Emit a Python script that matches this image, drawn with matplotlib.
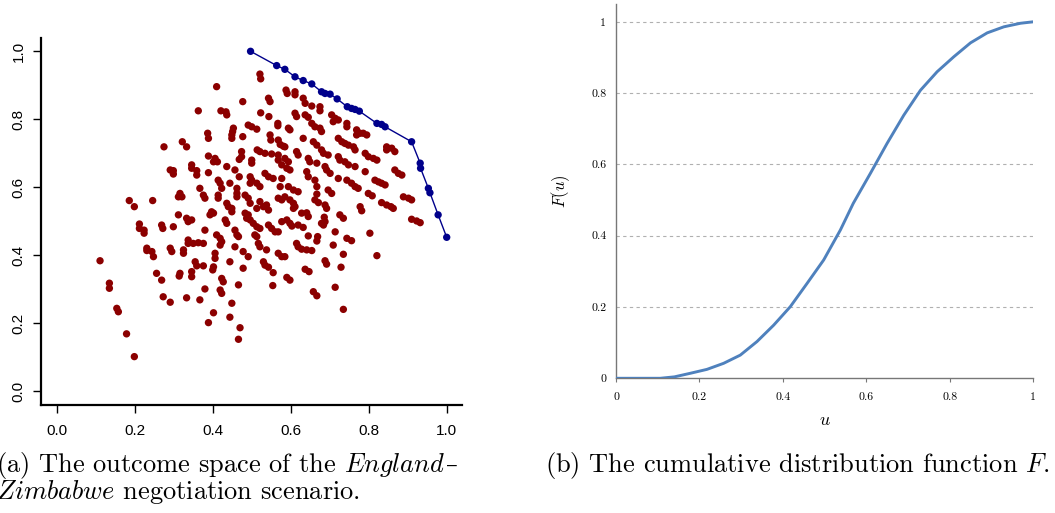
import numpy as np
import matplotlib
matplotlib.use('Agg')
import matplotlib.pyplot as plt

plt.rcParams['mathtext.fontset'] = 'cm'

# (a) outcome space: utilities (agent 1, agent 2) of the possible outcomes
outcomes = [
    (0.186, 0.561), (0.199, 0.543), (0.212, 0.492), (0.212, 0.479), (0.224, 0.474), (0.224, 0.465),
    (0.231, 0.421), (0.231, 0.414), (0.111, 0.384), (0.135, 0.318), (0.135, 0.303), (0.154, 0.244),
    (0.158, 0.234), (0.179, 0.169), (0.199, 0.102),
    (0.410, 0.896), (0.521, 0.933), (0.523, 0.919), (0.543, 0.862), (0.547, 0.852), (0.477, 0.852),
    (0.363, 0.825), (0.421, 0.825), (0.434, 0.822), (0.436, 0.813), (0.523, 0.819), (0.544, 0.808),
    (0.567, 0.788), (0.567, 0.781), (0.453, 0.774), (0.451, 0.764), (0.491, 0.783), (0.500, 0.778),
    (0.513, 0.771), (0.387, 0.759), (0.389, 0.744), (0.449, 0.754), (0.449, 0.744), (0.477, 0.749),
    (0.547, 0.754), (0.549, 0.739), (0.568, 0.739), (0.573, 0.726), (0.581, 0.721), (0.275, 0.719),
    (0.322, 0.734), (0.333, 0.719), (0.474, 0.705), (0.474, 0.690), (0.468, 0.682), (0.514, 0.710),
    (0.521, 0.705), (0.534, 0.700), (0.551, 0.698), (0.568, 0.695), (0.389, 0.692), (0.406, 0.685),
    (0.402, 0.675), (0.412, 0.675), (0.500, 0.680), (0.500, 0.671), (0.568, 0.680), (0.577, 0.666),
    (0.291, 0.651), (0.299, 0.649), (0.299, 0.639), (0.346, 0.666), (0.346, 0.656), (0.359, 0.649),
    (0.359, 0.636), (0.389, 0.643), (0.436, 0.661), (0.457, 0.651), (0.468, 0.631), (0.496, 0.631),
    (0.500, 0.621), (0.496, 0.612), (0.513, 0.612), (0.521, 0.602), (0.534, 0.641), (0.543, 0.631),
    (0.555, 0.626), (0.577, 0.626), (0.414, 0.621), (0.419, 0.612), (0.423, 0.597), (0.444, 0.612),
    (0.462, 0.597), (0.367, 0.597), (0.573, 0.602),
    (0.588, 0.886), (0.591, 0.876), (0.611, 0.881), (0.611, 0.872), (0.632, 0.862), (0.637, 0.847),
    (0.654, 0.839), (0.675, 0.837), (0.675, 0.825), (0.611, 0.818), (0.615, 0.808), (0.637, 0.813),
    (0.645, 0.806), (0.705, 0.813), (0.714, 0.803), (0.722, 0.798), (0.744, 0.788), (0.744, 0.778),
    (0.709, 0.793), (0.594, 0.774), (0.598, 0.769), (0.654, 0.788), (0.662, 0.778), (0.675, 0.774),
    (0.679, 0.764), (0.769, 0.769), (0.778, 0.759), (0.786, 0.759), (0.795, 0.754), (0.769, 0.754),
    (0.632, 0.744), (0.658, 0.734), (0.667, 0.724), (0.722, 0.744), (0.731, 0.734), (0.739, 0.729),
    (0.748, 0.724), (0.761, 0.719), (0.765, 0.710), (0.846, 0.719), (0.859, 0.715), (0.867, 0.705),
    (0.846, 0.710), (0.585, 0.719), (0.615, 0.705), (0.619, 0.695), (0.679, 0.710), (0.684, 0.700),
    (0.696, 0.695), (0.791, 0.700), (0.799, 0.690), (0.812, 0.685), (0.821, 0.680), (0.585, 0.685),
    (0.594, 0.675), (0.590, 0.656), (0.598, 0.651), (0.645, 0.685), (0.649, 0.675), (0.667, 0.671),
    (0.722, 0.690), (0.726, 0.680), (0.739, 0.675), (0.748, 0.666), (0.765, 0.661), (0.867, 0.651),
    (0.876, 0.641), (0.885, 0.636), (0.791, 0.646), (0.641, 0.646), (0.645, 0.631), (0.662, 0.621),
    (0.667, 0.602), (0.688, 0.661), (0.692, 0.651), (0.701, 0.641), (0.722, 0.626), (0.744, 0.621),
    (0.756, 0.612), (0.765, 0.602), (0.773, 0.597), (0.816, 0.621), (0.825, 0.616), (0.833, 0.612),
    (0.842, 0.607), (0.594, 0.602), (0.607, 0.592), (0.619, 0.587), (0.696, 0.592), (0.705, 0.582),
    (0.799, 0.582),
    (0.316, 0.582), (0.321, 0.572), (0.312, 0.572), (0.246, 0.561), (0.376, 0.577), (0.380, 0.568),
    (0.414, 0.577), (0.414, 0.568), (0.462, 0.582), (0.462, 0.572), (0.483, 0.577), (0.491, 0.568),
    (0.496, 0.553), (0.436, 0.553), (0.440, 0.543), (0.449, 0.538), (0.449, 0.528), (0.521, 0.558),
    (0.530, 0.543), (0.543, 0.533), (0.538, 0.548), (0.568, 0.568), (0.577, 0.563), (0.585, 0.572),
    (0.312, 0.519), (0.333, 0.509), (0.337, 0.499), (0.346, 0.504), (0.393, 0.519), (0.402, 0.524),
    (0.397, 0.528), (0.432, 0.504), (0.436, 0.494), (0.483, 0.524), (0.491, 0.519), (0.487, 0.509),
    (0.496, 0.504), (0.513, 0.538), (0.504, 0.494), (0.513, 0.484), (0.521, 0.479), (0.543, 0.489),
    (0.551, 0.479), (0.560, 0.469), (0.568, 0.469), (0.577, 0.499), (0.269, 0.489), (0.272, 0.479),
    (0.299, 0.484), (0.380, 0.474), (0.410, 0.460), (0.419, 0.450), (0.423, 0.440), (0.457, 0.474),
    (0.462, 0.460), (0.466, 0.455), (0.337, 0.445), (0.337, 0.435), (0.350, 0.435), (0.363, 0.437),
    (0.376, 0.435), (0.508, 0.460), (0.513, 0.455), (0.517, 0.435), (0.521, 0.425), (0.538, 0.416),
    (0.291, 0.421), (0.295, 0.411), (0.325, 0.416), (0.325, 0.406), (0.457, 0.425), (0.419, 0.430),
    (0.244, 0.411), (0.248, 0.396), (0.406, 0.406), (0.406, 0.391), (0.478, 0.411), (0.491, 0.396),
    (0.568, 0.406), (0.577, 0.396), (0.444, 0.381), (0.355, 0.381), (0.359, 0.369), (0.376, 0.369),
    (0.402, 0.366), (0.400, 0.357), (0.478, 0.362), (0.530, 0.381), (0.534, 0.371), (0.543, 0.365),
    (0.555, 0.349), (0.256, 0.347), (0.269, 0.327), (0.316, 0.347), (0.314, 0.339), (0.346, 0.352),
    (0.346, 0.337), (0.423, 0.332), (0.427, 0.322), (0.466, 0.313), (0.554, 0.311), (0.380, 0.301),
    (0.419, 0.298), (0.423, 0.288), (0.273, 0.278), (0.333, 0.275), (0.367, 0.269), (0.291, 0.262),
    (0.449, 0.259),
    (0.598, 0.563), (0.607, 0.553), (0.611, 0.543), (0.607, 0.538), (0.667, 0.580), (0.662, 0.563),
    (0.671, 0.555), (0.688, 0.548), (0.692, 0.538), (0.809, 0.575), (0.778, 0.543), (0.782, 0.531),
    (0.833, 0.555), (0.846, 0.548), (0.857, 0.543), (0.863, 0.538), (0.889, 0.572), (0.902, 0.568),
    (0.910, 0.563), (0.628, 0.524), (0.641, 0.525), (0.645, 0.514), (0.590, 0.504), (0.598, 0.494),
    (0.603, 0.486), (0.619, 0.489), (0.632, 0.482), (0.686, 0.512), (0.688, 0.499), (0.684, 0.489),
    (0.679, 0.494), (0.726, 0.519), (0.735, 0.509), (0.910, 0.506), (0.923, 0.501), (0.932, 0.496),
    (0.714, 0.469), (0.645, 0.457), (0.669, 0.455), (0.667, 0.442), (0.744, 0.450), (0.756, 0.443),
    (0.803, 0.465), (0.615, 0.435), (0.619, 0.425), (0.628, 0.418), (0.641, 0.416), (0.654, 0.414),
    (0.709, 0.430), (0.735, 0.403), (0.821, 0.399), (0.585, 0.396), (0.688, 0.384), (0.692, 0.374),
    (0.729, 0.365), (0.637, 0.359), (0.647, 0.352), (0.590, 0.335), (0.598, 0.327), (0.714, 0.306),
    (0.658, 0.293), (0.667, 0.281),
    (0.389, 0.202), (0.402, 0.231), (0.444, 0.218), (0.470, 0.187), (0.466, 0.153), (0.735, 0.241),
]

# Pareto frontier
pareto_x = [0.497, 0.564, 0.585, 0.611, 0.632, 0.654, 0.679, 0.688, 0.701, 0.719, 0.745, 0.756,
            0.765, 0.776, 0.821, 0.833, 0.842, 0.910, 0.932, 0.933, 0.953, 0.957, 0.978, 1.000]
pareto_y = [1.000, 0.958, 0.947, 0.925, 0.914, 0.904, 0.881, 0.876, 0.874, 0.860, 0.837, 0.832,
            0.829, 0.824, 0.788, 0.785, 0.778, 0.734, 0.671, 0.656, 0.597, 0.584, 0.519, 0.453]

# (b) cumulative distribution function F(u)
cdf_u = [0.0, 0.106, 0.140, 0.178, 0.218, 0.258, 0.298, 0.338, 0.378, 0.418, 0.458, 0.498, 0.538,
         0.569, 0.610, 0.650, 0.690, 0.730, 0.770, 0.810, 0.850, 0.890, 0.930, 0.970, 1.0]
cdf_f = [0.0, 0.0, 0.004, 0.014, 0.025, 0.042, 0.065, 0.103, 0.149, 0.201, 0.266, 0.332, 0.416,
         0.491, 0.575, 0.659, 0.738, 0.808, 0.860, 0.902, 0.941, 0.969, 0.986, 0.996, 1.0]

ticks_a = [0.0, 0.2, 0.4, 0.6, 0.8, 1.0]
tick_labels_a = ['0.0', '0.2', '0.4', '0.6', '0.8', '1.0']
ticks_b = [0, 0.2, 0.4, 0.6, 0.8, 1]
tick_labels_b = ['0', '0.2', '0.4', '0.6', '0.8', '1']

W, H = 1055, 513
fig = plt.figure(figsize=(W / 100, H / 100), dpi=100)

# --- left panel: R-style scatter
ax1 = fig.add_axes([0.039, 0.2107, 0.3992, 0.7158])
pts = np.array(outcomes)
ax1.scatter(pts[:, 0], pts[:, 1], s=28, c='#8b0000', edgecolors='none', zorder=2)
ax1.plot(pareto_x, pareto_y, color='#00008b', lw=1.0, zorder=3)
ax1.scatter(pareto_x, pareto_y, s=28, c='#00008b', edgecolors='none', zorder=4)
ax1.set_xlim(-0.04, 1.04)
ax1.set_ylim(-0.04, 1.04)
for s in ['top', 'right']:
    ax1.spines[s].set_visible(False)
for s in ['left', 'bottom']:
    ax1.spines[s].set_linewidth(1.6)
ax1.set_xticks(ticks_a)
ax1.set_xticklabels(tick_labels_a, family='Liberation Sans', fontsize=11)
ax1.set_yticks(ticks_a)
ax1.set_yticklabels(tick_labels_a, family='Liberation Sans', fontsize=11,
                    rotation=90, va='center')
ax1.tick_params(axis='x', length=6, width=1, pad=8)
ax1.tick_params(axis='y', length=6, width=1, pad=5)

# --- right panel: CDF
ax2 = fig.add_axes([0.5839, 0.2626, 0.3953, 0.7296])
ax2.plot(cdf_u, cdf_f, color='#4f81bd', lw=2.1, zorder=3)
ax2.set_xlim(0, 1)
ax2.set_ylim(0, 1.05)
for y in ticks_b[1:]:
    ax2.axhline(y, color='#b0b0b0', lw=0.8, ls=(0, (3, 3)), zorder=1)
for s in ['top', 'right']:
    ax2.spines[s].set_visible(False)
for s in ['left', 'bottom']:
    ax2.spines[s].set_color('#777777')
    ax2.spines[s].set_linewidth(1.0)
ax2.set_xticks(ticks_b)
ax2.set_xticklabels(tick_labels_b, family='cmr10', fontsize=8.5)
ax2.set_yticks(ticks_b)
ax2.set_yticklabels(tick_labels_b, family='cmr10', fontsize=8.5)
ax2.tick_params(axis='x', length=3, width=0.8, color='#777777', pad=7)
ax2.tick_params(axis='y', length=0, pad=7)
ax2.set_xlabel('$u$', fontsize=13, labelpad=7)
ax2.set_ylabel('$F(u)$', fontsize=12, labelpad=14)

# --- captions
cap_font = ['cmr10', 'DejaVu Serif']
line1 = fig.text(-0.004, 1 - 472 / H, '(a) The outcome space of the $\\mathit{England}$',
                 family=cap_font, fontsize=19, va='baseline', ha='left')
fig.text(-0.004, 1 - 499 / H, '$\\mathit{Zimbabwe}$ negotiation scenario.',
         family=cap_font, fontsize=19, va='baseline', ha='left')
fig.text(545 / W, 1 - 472 / H, '(b) The cumulative distribution function $F$.',
         family=cap_font, fontsize=19, va='baseline', ha='left')

# cmr10 has no usable en dash, so put one right after the first caption line
renderer = fig.canvas.get_renderer()
bb = line1.get_window_extent(renderer=renderer)
fig.text(bb.x1 / W + 0.001, 1 - 472 / H, '\u2013', family='DejaVu Serif',
         fontsize=17, va='baseline', ha='left')

fig.savefig('out.png', dpi=100)
